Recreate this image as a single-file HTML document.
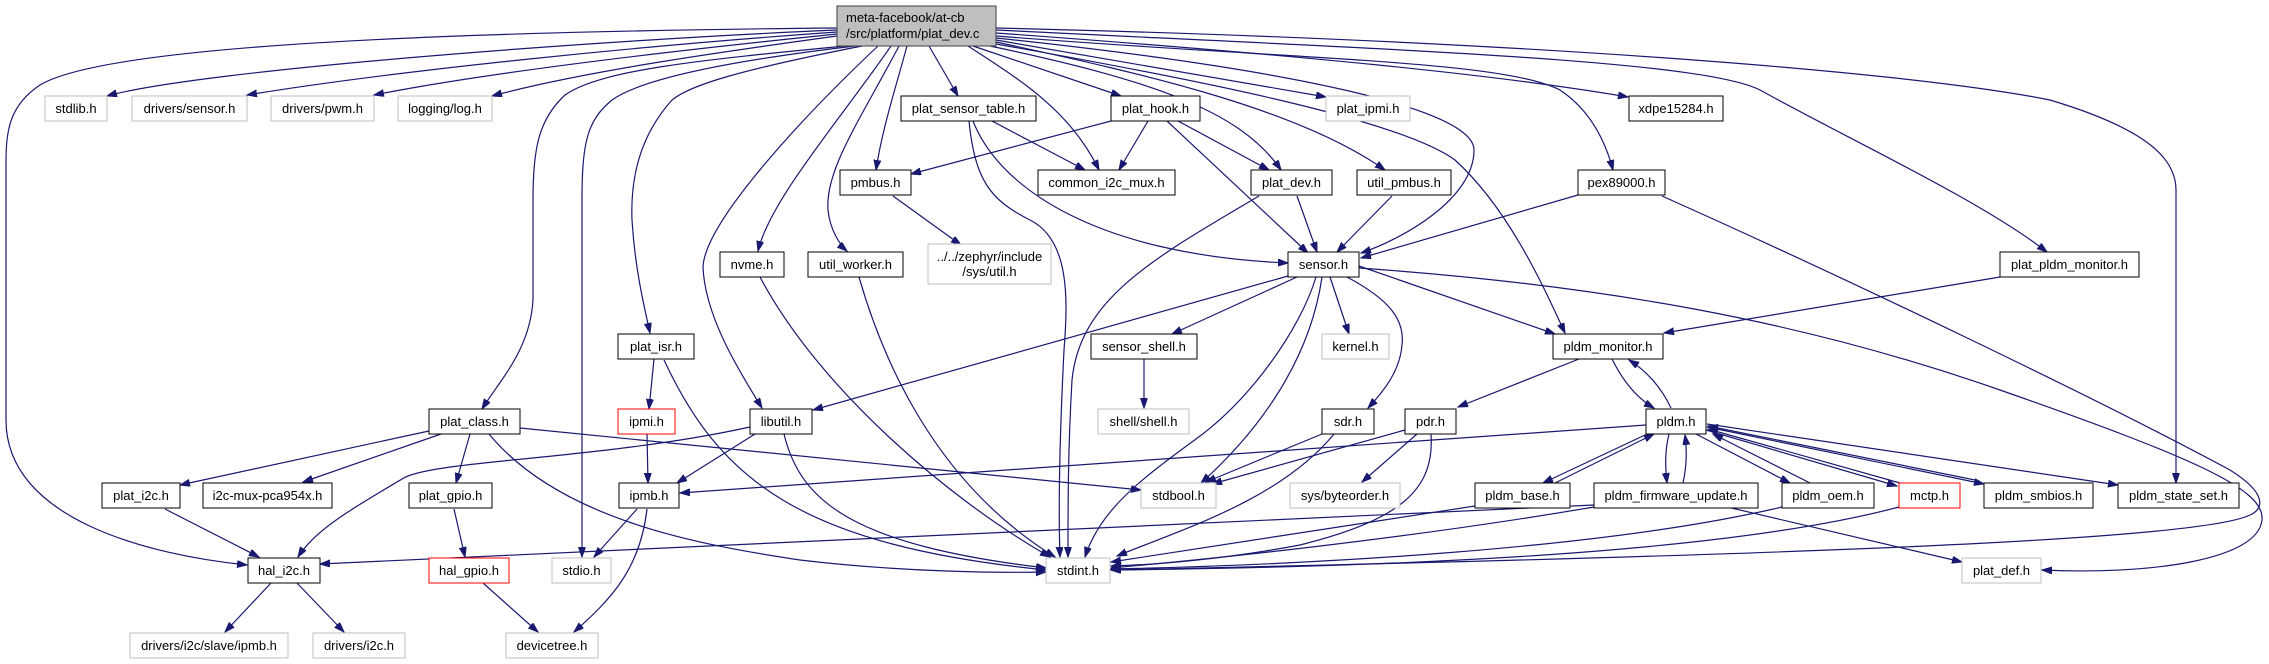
<!DOCTYPE html>
<html><head><meta charset="utf-8"><style>
html,body{margin:0;padding:0;background:#fff;}
svg{display:block;}
text{font-family:"Liberation Sans",Arial,sans-serif;font-size:13px;fill:#000;}
.e{fill:none;stroke:#191970;stroke-width:1.2;marker-end:url(#a);}
.n{fill:#fff;stroke:#000;stroke-width:1;}
.g{fill:#fff;stroke:#bfbfbf;stroke-width:1;}
.r{fill:#fff;stroke:#ff0000;stroke-width:1;}
</style></head><body>
<svg width="2269" height="664" viewBox="0 0 2269 664" xmlns="http://www.w3.org/2000/svg">
<defs><marker id="a" markerWidth="11" markerHeight="8" refX="10" refY="3.5" orient="auto" markerUnits="userSpaceOnUse"><path d="M0,0 L10,3.5 L0,7 z" fill="#191970" stroke="#191970"/></marker></defs>

<path class="e" d="M837,30 C600,40 200,70 107,96"/>
<path class="e" d="M837,32 C650,45 400,70 247,95"/>
<path class="e" d="M837,34 C700,48 500,70 374,95"/>
<path class="e" d="M837,36 C720,52 580,72 492,96"/>
<path class="e" d="M837,28 C300,33 90,55 40,85 C10,105 6,130 6,160 L6,420 C6,520 150,555 247,565"/>
<path class="e" d="M845,46 C700,60 600,70 565,95 C538,120 533,150 533,200 L533,300 C530,350 500,380 482,409"/>
<path class="e" d="M855,46 C720,62 640,80 612,100 C588,120 582,140 582,200 L582,557"/>
<path class="e" d="M862,46 C740,70 690,85 672,100 C645,130 630,170 632,220 C635,270 645,310 650,333"/>
<path class="e" d="M878,46 C810,110 705,220 703,267 C705,320 745,380 762,408"/>
<path class="e" d="M891,46 C840,120 770,200 758,251"/>
<path class="e" d="M899,46 C860,120 825,170 828,210 C830,230 840,245 847,251"/>
<path class="e" d="M907,46 C895,90 882,130 876,170"/>
<path class="e" d="M929,46 L958,96"/>
<path class="e" d="M968,46 C1020,80 1070,110 1099,170"/>
<path class="e" d="M973,46 L1121,96"/>
<path class="e" d="M996,40 L1326,97"/>
<path class="e" d="M990,46 C1150,80 1240,110 1281,170"/>
<path class="e" d="M996,42 C1150,75 1300,110 1385,170"/>
<path class="e" d="M996,38 C1300,70 1474,110 1474,150 C1474,200 1400,240 1361,253"/>
<path class="e" d="M996,33 C1300,55 1500,75 1628,97"/>
<path class="e" d="M996,36 C1300,60 1500,60 1560,90 C1590,110 1605,140 1613,170"/>
<path class="e" d="M996,30 C1400,50 1700,60 1760,90 C1850,140 1980,200 2047,252"/>
<path class="e" d="M996,28 C1500,40 1900,70 2050,100 C2150,130 2176,160 2176,190 L2176,483"/>
<path class="e" d="M996,44 C1200,80 1400,120 1455,160 C1510,210 1545,290 1565,333"/>

<path class="e" d="M992,121 L1085,170"/>
<path class="e" d="M973,121 C1000,190 1100,255 1288,263"/>
<path class="e" d="M969,121 C975,180 990,200 1030,220 C1070,240 1068,300 1064,350 C1060,430 1058,500 1060,557"/>
<path class="e" d="M1111,121 L911,174"/>
<path class="e" d="M1148,121 L1119,170"/>
<path class="e" d="M1178,121 L1269,170"/>
<path class="e" d="M1167,121 L1308,253"/>
<path class="e" d="M893,196 L961,245"/>
<path class="e" d="M1297,196 L1317,252"/>
<path class="e" d="M1259,196 C1150,260 1080,300 1072,380 C1068,450 1068,500 1068,557"/>
<path class="e" d="M1392,196 L1337,252"/>
<path class="e" d="M1578,195 L1361,258"/>
<path class="e" d="M1662,196 C1850,280 2100,400 2230,470 C2270,495 2262,510 2250,515 C2200,540 1800,555 1111,570"/>
<path class="e" d="M1288,276 L813,410"/>
<path class="e" d="M1297,277 L1172,334"/>
<path class="e" d="M1316,277 C1300,330 1250,400 1196,439 C1140,480 1100,510 1085,557"/>
<path class="e" d="M1322,277 C1310,360 1260,430 1201,483"/>
<path class="e" d="M1330,277 L1349,334"/>
<path class="e" d="M1347,277 C1390,300 1405,320 1402,345 C1400,370 1385,390 1368,408"/>
<path class="e" d="M1359,266 L1555,334"/>
<path class="e" d="M1359,268 C1600,285 1800,320 2000,390 C2200,460 2265,490 2262,520 C2258,560 2150,575 2042,570"/>
<path class="e" d="M755,434 L677,483"/>
<path class="e" d="M750,427 C600,460 430,460 402,479 C350,510 315,530 298,557"/>
<path class="e" d="M784,434 C800,500 850,545 1046,568"/>
<path class="e" d="M760,277 C820,390 950,500 1050,557"/>
<path class="e" d="M859,277 C880,350 930,480 1055,557"/>
<path class="e" d="M654,359 L649,409"/>
<path class="e" d="M664,360 C720,480 800,545 1046,570"/>
<path class="e" d="M647,434 L648,483"/>
<path class="e" d="M429,431 L180,485"/>
<path class="e" d="M441,434 L303,482"/>
<path class="e" d="M470,434 L456,483"/>
<path class="e" d="M520,428 L1141,490"/>
<path class="e" d="M489,434 C560,520 700,545 800,560 C900,572 1000,573 1046,572"/>
<path class="e" d="M165,509 L259,557"/>
<path class="e" d="M454,509 L465,557"/>
<path class="e" d="M271,583 L225,632"/>
<path class="e" d="M297,583 L344,632"/>
<path class="e" d="M483,583 L538,632"/>
<path class="e" d="M637,509 L594,557"/>
<path class="e" d="M647,509 C640,570 610,600 574,632"/>
<path class="e" d="M1144,359 L1144,408"/>
<path class="e" d="M1322,434 L1206,482"/>
<path class="e" d="M1334,434 C1280,500 1180,530 1117,556"/>
<path class="e" d="M1405,430 L1212,484"/>
<path class="e" d="M1417,434 L1362,482"/>
<path class="e" d="M1431,434 C1435,490 1400,520 1300,545 C1220,560 1150,565 1111,566"/>
<path class="e" d="M1579,359 L1458,407"/>
<path class="e" d="M2000,277 L1664,333"/>
<path class="e" d="M1612,359 C1625,385 1640,400 1654,408"/>
<path class="e" d="M1671,408 C1660,385 1645,370 1629,360"/>
<path class="e" d="M1646,425 L680,493"/>
<path class="e" d="M1645,435 L1543,483"/>
<path class="e" d="M1555,483 L1654,434"/>
<path class="e" d="M1669,434 C1665,450 1665,465 1667,483"/>
<path class="e" d="M1683,483 C1687,465 1687,450 1685,435"/>
<path class="e" d="M1696,434 L1790,483"/>
<path class="e" d="M1810,483 L1713,434"/>
<path class="e" d="M1706,430 L1897,486"/>
<path class="e" d="M1900,483 L1708,429"/>
<path class="e" d="M1707,427 L1984,484"/>
<path class="e" d="M1975,480 L1708,426"/>
<path class="e" d="M1707,424 L2118,485"/>
<path class="e" d="M1475,506 L1111,562"/>
<path class="e" d="M1594,507 C1400,540 1200,560 1111,568"/>
<path class="e" d="M1782,507 C1600,550 1300,565 1111,569"/>
<path class="e" d="M1899,507 C1700,560 1300,568 1111,570"/>
<path class="e" d="M1727,507 L1962,562"/>
<path class="e" d="M1594,505 L320,564"/>

<rect x="837" y="6" width="159" height="40" fill="#bfbfbf" stroke="#404040"/>
<text x="846" y="22">meta-facebook/at-cb</text>
<text x="846" y="38">/src/platform/plat_dev.c</text>

<rect class="g" x="45" y="96" width="62" height="25"/><text x="76" y="113" text-anchor="middle">stdlib.h</text>
<rect class="g" x="132" y="96" width="115" height="25"/><text x="189.5" y="113" text-anchor="middle">drivers/sensor.h</text>
<rect class="g" x="271" y="96" width="103" height="25"/><text x="322.5" y="113" text-anchor="middle">drivers/pwm.h</text>
<rect class="g" x="398" y="96" width="94" height="25"/><text x="445" y="113" text-anchor="middle">logging/log.h</text>
<rect class="n" x="901" y="96" width="135" height="25"/><text x="968.5" y="113" text-anchor="middle">plat_sensor_table.h</text>
<rect class="n" x="1111" y="96" width="89" height="25"/><text x="1155.5" y="113" text-anchor="middle">plat_hook.h</text>
<rect class="g" x="1326" y="96" width="84" height="25"/><text x="1368" y="113" text-anchor="middle">plat_ipmi.h</text>
<rect class="n" x="1629" y="96" width="94" height="25"/><text x="1676" y="113" text-anchor="middle">xdpe15284.h</text>

<rect class="n" x="840" y="170" width="71" height="25"/><text x="875.5" y="187" text-anchor="middle">pmbus.h</text>
<rect class="n" x="1038" y="170" width="137" height="25"/><text x="1106.5" y="187" text-anchor="middle">common_i2c_mux.h</text>
<rect class="n" x="1251" y="170" width="81" height="25"/><text x="1291.5" y="187" text-anchor="middle">plat_dev.h</text>
<rect class="n" x="1357" y="170" width="94" height="25"/><text x="1404" y="187" text-anchor="middle">util_pmbus.h</text>
<rect class="n" x="1578" y="170" width="87" height="25"/><text x="1621.5" y="187" text-anchor="middle">pex89000.h</text>

<rect class="n" x="720" y="252" width="64" height="25"/><text x="752" y="269" text-anchor="middle">nvme.h</text>
<rect class="n" x="808" y="252" width="95" height="25"/><text x="855.5" y="269" text-anchor="middle">util_worker.h</text>
<rect class="g" x="928" y="244" width="123" height="40"/><text x="989.5" y="261" text-anchor="middle">../../zephyr/include</text><text x="989.5" y="276" text-anchor="middle">/sys/util.h</text>
<rect class="n" x="1288" y="252" width="71" height="25"/><text x="1323.5" y="269" text-anchor="middle">sensor.h</text>
<rect class="n" x="2000" y="252" width="139" height="25"/><text x="2069.5" y="269" text-anchor="middle">plat_pldm_monitor.h</text>

<rect class="n" x="618" y="334" width="76" height="25"/><text x="656" y="351" text-anchor="middle">plat_isr.h</text>
<rect class="n" x="1091" y="334" width="106" height="25"/><text x="1144" y="351" text-anchor="middle">sensor_shell.h</text>
<rect class="g" x="1322" y="334" width="67" height="25"/><text x="1355.5" y="351" text-anchor="middle">kernel.h</text>
<rect class="n" x="1553" y="334" width="110" height="25"/><text x="1608" y="351" text-anchor="middle">pldm_monitor.h</text>

<rect class="n" x="429" y="409" width="91" height="25"/><text x="474.5" y="426" text-anchor="middle">plat_class.h</text>
<rect class="r" x="618" y="409" width="57" height="25"/><text x="646.5" y="426" text-anchor="middle">ipmi.h</text>
<rect class="n" x="750" y="409" width="62" height="25"/><text x="781" y="426" text-anchor="middle">libutil.h</text>
<rect class="g" x="1098" y="409" width="91" height="25"/><text x="1143.5" y="426" text-anchor="middle">shell/shell.h</text>
<rect class="n" x="1322" y="409" width="52" height="25"/><text x="1348" y="426" text-anchor="middle">sdr.h</text>
<rect class="n" x="1405" y="409" width="51" height="25"/><text x="1430.5" y="426" text-anchor="middle">pdr.h</text>
<rect class="n" x="1646" y="409" width="60" height="25"/><text x="1676" y="426" text-anchor="middle">pldm.h</text>

<rect class="n" x="102" y="483" width="78" height="25"/><text x="141" y="500" text-anchor="middle">plat_i2c.h</text>
<rect class="n" x="203" y="483" width="129" height="25"/><text x="267.5" y="500" text-anchor="middle">i2c-mux-pca954x.h</text>
<rect class="n" x="409" y="483" width="83" height="25"/><text x="450.5" y="500" text-anchor="middle">plat_gpio.h</text>
<rect class="n" x="619" y="483" width="60" height="25"/><text x="649" y="500" text-anchor="middle">ipmb.h</text>
<rect class="g" x="1141" y="483" width="75" height="25"/><text x="1178.5" y="500" text-anchor="middle">stdbool.h</text>
<rect class="g" x="1290" y="483" width="110" height="25"/><text x="1345" y="500" text-anchor="middle">sys/byteorder.h</text>
<rect class="n" x="1475" y="483" width="95" height="25"/><text x="1522.5" y="500" text-anchor="middle">pldm_base.h</text>
<rect class="n" x="1594" y="483" width="164" height="25"/><text x="1676" y="500" text-anchor="middle">pldm_firmware_update.h</text>
<rect class="n" x="1782" y="483" width="92" height="25"/><text x="1828" y="500" text-anchor="middle">pldm_oem.h</text>
<rect class="r" x="1899" y="483" width="61" height="25"/><text x="1929.5" y="500" text-anchor="middle">mctp.h</text>
<rect class="n" x="1984" y="483" width="109" height="25"/><text x="2038.5" y="500" text-anchor="middle">pldm_smbios.h</text>
<rect class="n" x="2118" y="483" width="121" height="25"/><text x="2178.5" y="500" text-anchor="middle">pldm_state_set.h</text>

<rect class="n" x="248" y="558" width="72" height="25"/><text x="284" y="575" text-anchor="middle">hal_i2c.h</text>
<rect class="r" x="429" y="558" width="80" height="25"/><text x="469" y="575" text-anchor="middle">hal_gpio.h</text>
<rect class="g" x="552" y="558" width="59" height="25"/><text x="581.5" y="575" text-anchor="middle">stdio.h</text>
<rect class="g" x="1046" y="558" width="64" height="25"/><text x="1078" y="575" text-anchor="middle">stdint.h</text>
<rect class="g" x="1962" y="558" width="79" height="25"/><text x="2001.5" y="575" text-anchor="middle">plat_def.h</text>

<rect class="g" x="130" y="633" width="158" height="25"/><text x="209" y="650" text-anchor="middle">drivers/i2c/slave/ipmb.h</text>
<rect class="g" x="313" y="633" width="92" height="25"/><text x="359" y="650" text-anchor="middle">drivers/i2c.h</text>
<rect class="g" x="506" y="633" width="92" height="25"/><text x="552" y="650" text-anchor="middle">devicetree.h</text>
</svg>
</body></html>
